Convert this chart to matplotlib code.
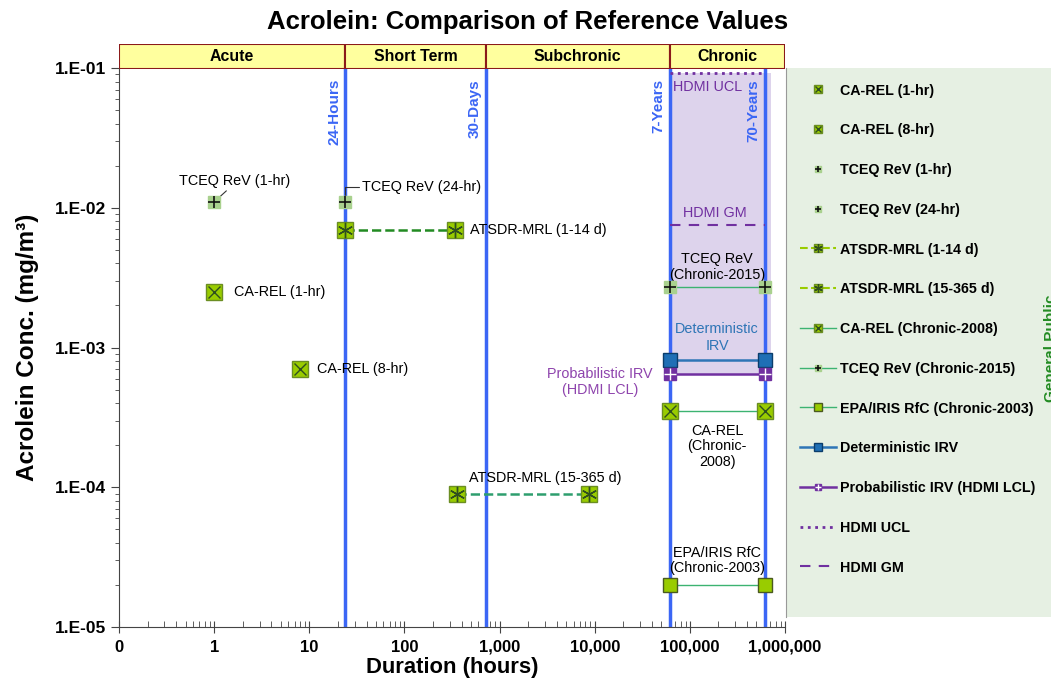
import numpy as np
import matplotlib
matplotlib.use("Agg")
import matplotlib.pyplot as plt
from matplotlib.ticker import FixedLocator, NullFormatter
from matplotlib.legend_handler import HandlerTuple
from matplotlib.lines import Line2D

plt.rcParams['font.family'] = ['Liberation Sans', 'DejaVu Sans']

# ---- data (hours, mg/m3) ----
ca_rel_x = [1, 8]
ca_rel_y = [0.0025, 0.0007]
tceq_x = [1, 24]
tceq_y = [0.011, 0.011]
atsdr_acute_x = [24, 336]
atsdr_acute_y = [0.0069, 0.0069]
atsdr_inter_x = [360, 8760]
atsdr_inter_y = [9e-05, 9e-05]
chronic_x = [61320, 613200]
ca_rel_chronic_y = [0.00035, 0.00035]
tceq_chronic_y = [0.0027, 0.0027]
epa_rfc_y = [2e-05, 2e-05]
det_irv_y = [0.00082, 0.00082]
prob_irv_y = [0.00065, 0.00065]
hdmi_ucl_y = [0.092, 0.092]
hdmi_gm_y = [0.0075, 0.0075]
shade_x = [61320, 710000]

boundaries = [24, 720, 61320, 613200]
boundary_labels = ['24-Hours', '30-Days', '7-Years', '70-Years']
period_names = ['Acute', 'Short Term', 'Subchronic', 'Chronic']
period_edges = [0.1, 24, 720, 61320, 1e6]

x_ticks = [0.1, 1, 10, 100, 1000, 10000, 100000, 1000000]
x_tick_labels = ['0', '1', '10', '100', '1,000', '10,000', '100,000', '1,000,000']
y_ticks = [1e-5, 1e-4, 1e-3, 1e-2, 1e-1]
y_tick_labels = ['1.E-05', '1.E-04', '1.E-03', '1.E-02', '1.E-01']

# ---- colours ----
ygreen = '#99cc00'
lgreen = '#a9d18e'
chron_green = '#3cb371'
blue_v = '#3b66f5'
det_blue = '#2e75b6'
purple = '#7030a0'

W, H = 1051, 682
fig = plt.figure(figsize=(W / 100, H / 100), dpi=100)
ax = fig.add_axes([119 / W, 1 - 627 / H, 666 / W, 559 / H])
ax.set_xscale('log')
ax.set_yscale('log')
ax.set_xlim(0.1, 1e6)
ax.set_ylim(1e-5, 1e-1)

# shaded HDMI band and period boundaries
ax.fill_between(shade_x, prob_irv_y[0], hdmi_ucl_y[0], color='#ddd3ec', zorder=1, lw=0)
for b, lab in zip(boundaries, boundary_labels):
    ax.axvline(b, color=blue_v, lw=2.5, zorder=2)
    ax.annotate(lab, xy=(b, 1), xycoords=('data', 'axes fraction'),
                xytext=(-8, -8), textcoords='offset points', rotation=90,
                ha='center', va='top', color=blue_v, fontsize=11, fontweight='bold')

big = 11
# acute points
ca1 = ax.plot(ca_rel_x, ca_rel_y, ls='none', marker='s', ms=big, mfc=ygreen, mec='#6b8e23', zorder=4)[0]
ca1x = ax.plot(ca_rel_x, ca_rel_y, ls='none', marker='x', ms=big * 0.8, color='#2f4f1f', mew=1, zorder=5)[0]
tq = ax.plot(tceq_x, tceq_y, ls='none', marker='s', ms=9, mfc=lgreen, mec=lgreen, zorder=4)[0]
tqp = ax.plot(tceq_x, tceq_y, ls='none', marker='+', ms=9, color='#111', mew=1.2, zorder=5)[0]

# ATSDR
at1 = ax.plot(atsdr_acute_x, atsdr_acute_y, ls='--', color='#228b22', lw=1.8, marker='s', ms=big,
              mfc=ygreen, mec='#6b8e23', zorder=4)[0]
at1s = ax.plot(atsdr_acute_x, atsdr_acute_y, ls='none', marker=(6, 2, 0), ms=big, color='#2f4f1f', zorder=5)[0]
at2 = ax.plot(atsdr_inter_x, atsdr_inter_y, ls='--', color='#2e9e6e', lw=1.8, marker='s', ms=big,
              mfc=ygreen, mec='#6b8e23', zorder=4)[0]
at2s = ax.plot(atsdr_inter_x, atsdr_inter_y, ls='none', marker=(6, 2, 0), ms=big, color='#2f4f1f', zorder=5)[0]

# chronic
cac = ax.plot(chronic_x, ca_rel_chronic_y, ls='-', color=chron_green, lw=1, marker='s', ms=big,
              mfc=ygreen, mec='#6b8e23', zorder=4)[0]
cacx = ax.plot(chronic_x, ca_rel_chronic_y, ls='none', marker='x', ms=big * 0.8, color='#2f4f1f', zorder=5)[0]
tqc = ax.plot(chronic_x, tceq_chronic_y, ls='-', color=chron_green, lw=1, marker='s', ms=9,
              mfc=lgreen, mec=lgreen, zorder=4)[0]
tqcp = ax.plot(chronic_x, tceq_chronic_y, ls='none', marker='+', ms=9, color='#111', mew=1.2, zorder=5)[0]
epa = ax.plot(chronic_x, epa_rfc_y, ls='-', color=chron_green, lw=1, marker='s', ms=10,
              mfc=ygreen, mec='#4a5a20', zorder=4)[0]
det = ax.plot(chronic_x, det_irv_y, ls='-', color=det_blue, lw=1.8, marker='s', ms=10,
              mfc='#1f6fb5', mec='#0b3d6b', zorder=4)[0]
prob = ax.plot(chronic_x, prob_irv_y, ls='-', color=purple, lw=1.8, marker='s', ms=9,
               mfc=purple, mec=purple, zorder=4)[0]
probp = ax.plot(chronic_x, prob_irv_y, ls='none', marker='+', ms=9, color='white', mew=1, zorder=5)[0]
ucl = ax.plot(chronic_x, hdmi_ucl_y, ls=':', color=purple, lw=2, zorder=3)[0]
gm = ax.plot(chronic_x, hdmi_gm_y, ls='--', color=purple, lw=1.5, dashes=(5, 4), zorder=3)[0]

# annotations
fs = 10.4
ax.annotate('TCEQ ReV (1-hr)', xy=(tceq_x[0], tceq_y[0]), xytext=(15, 10), textcoords='offset points',
            ha='center', va='bottom', fontsize=fs,
            arrowprops=dict(arrowstyle='-', color='#333', lw=0.8, shrinkA=0, shrinkB=3,
                            relpos=(0.45, 0)))
ax.annotate('TCEQ ReV (24-hr)', xy=(tceq_x[1], tceq_y[1]), xytext=(12, 11), textcoords='offset points',
            ha='left', va='center', fontsize=fs,
            arrowprops=dict(arrowstyle='-', color='#333', lw=0.8, shrinkA=0, shrinkB=2,
                            relpos=(0, 0.5), connectionstyle='angle,angleA=0,angleB=90,rad=0'))
ax.annotate('ATSDR-MRL (1-14 d)', xy=(atsdr_acute_x[1], atsdr_acute_y[1]), xytext=(11, 0),
            textcoords='offset points', ha='left', va='center', fontsize=fs)
ax.annotate('CA-REL (1-hr)', xy=(ca_rel_x[0], ca_rel_y[0]), xytext=(14, 0),
            textcoords='offset points', ha='left', va='center', fontsize=fs)
ax.annotate('CA-REL (8-hr)', xy=(ca_rel_x[1], ca_rel_y[1]), xytext=(12, 0),
            textcoords='offset points', ha='left', va='center', fontsize=fs)
mid_inter = np.sqrt(atsdr_inter_x[0] * atsdr_inter_x[1])
ax.annotate('ATSDR-MRL (15-365 d)', xy=(mid_inter, atsdr_inter_y[0]), xytext=(16, 6),
            textcoords='offset points', ha='center', va='bottom', fontsize=fs)

mid_c = np.sqrt(chronic_x[0] * chronic_x[1])
ax.annotate('HDMI UCL', xy=(mid_c, hdmi_ucl_y[0]), xytext=(-7, -5), textcoords='offset points',
            ha='center', va='top', fontsize=fs, color=purple)
ax.annotate('HDMI GM', xy=(mid_c, hdmi_gm_y[0]), xytext=(-2, 4), textcoords='offset points',
            ha='center', va='bottom', fontsize=fs, color=purple)
ax.annotate('TCEQ ReV\n(Chronic-2015)', xy=(mid_c, tceq_chronic_y[0]), xytext=(0, 4),
            textcoords='offset points', ha='center', va='bottom', fontsize=fs, linespacing=1.15)
ax.annotate('Deterministic\nIRV', xy=(mid_c, det_irv_y[0]), xytext=(0, 5),
            textcoords='offset points', ha='center', va='bottom', fontsize=fs, color=det_blue,
            linespacing=1.25)
ax.annotate('Probabilistic IRV\n(HDMI LCL)', xy=(chronic_x[0], prob_irv_y[0]), xytext=(-12, -6),
            textcoords='offset points', ha='right', va='center', fontsize=fs, color='#8e44ad',
            multialignment='center', linespacing=1.2)
ax.annotate('CA-REL\n(Chronic-\n2008)', xy=(mid_c, ca_rel_chronic_y[0]), xytext=(0, -9),
            textcoords='offset points', ha='center', va='top', fontsize=fs, linespacing=1.15)
ax.annotate('EPA/IRIS RfC\n(Chronic-2003)', xy=(mid_c, epa_rfc_y[0]), xytext=(0, 7),
            textcoords='offset points', ha='center', va='bottom', fontsize=fs, linespacing=1.1)

# axes styling
ax.xaxis.set_major_locator(FixedLocator(x_ticks))
ax.set_xticklabels(x_tick_labels, fontsize=12, fontweight='bold')
ax.xaxis.set_minor_formatter(NullFormatter())
ax.yaxis.set_major_locator(FixedLocator(y_ticks))
ax.set_yticklabels(y_tick_labels, fontsize=12.5, fontweight='bold')
ax.yaxis.set_minor_formatter(NullFormatter())
ax.tick_params(axis='y', which='major', length=6, color='#444')
ax.tick_params(axis='y', which='minor', length=3, color='#444')
ax.tick_params(axis='x', which='major', length=8, direction='inout', color='#444', pad=5)
ax.tick_params(axis='x', which='minor', length=4, direction='in', color='#444')
for s in ['top', 'right']:
    ax.spines[s].set_visible(False)
for s in ['left', 'bottom']:
    ax.spines[s].set_color('#444')
ax.set_xlabel('Duration (hours)', fontsize=15.8, fontweight='bold', labelpad=2)
ax.set_ylabel('Acrolein Conc. (mg/m³)', fontsize=17.5, fontweight='bold', labelpad=11)

fig.text(528 / W, 1 - 22 / H, 'Acrolein: Comparison of Reference Values', ha='center', va='center',
         fontsize=18.5, fontweight='bold')

# header band
axh = fig.add_axes([119 / W, 1 - 69 / H, 666 / W, 25 / H])
axh.set_xscale('log')
axh.set_xlim(0.1, 1e6)
axh.set_ylim(0, 1)
lefts = period_edges[:-1]
widths = [r - l for l, r in zip(period_edges[:-1], period_edges[1:])]
axh.bar(lefts, [1] * len(lefts), width=widths, align='edge', color='#ffff9e',
        edgecolor='#8b1a1a', lw=1.5)
for l, r, name in zip(period_edges[:-1], period_edges[1:], period_names):
    axh.text(np.sqrt(l * r), 0.5, name, ha='center', va='center', fontsize=11.4, fontweight='bold')
axh.set_axis_off()

# legend panel
axl = fig.add_axes([786 / W, 1 - 617 / H, 265 / W, 549 / H])
axl.set_facecolor('#e6f0e3')
axl.set_xticks([])
axl.set_yticks([])
for s in ['top', 'right', 'bottom']:
    axl.spines[s].set_visible(False)
axl.spines['left'].set_color('#999')
leg_at1 = Line2D([], [], ls='--', color=ygreen, lw=1.5, marker='s', ms=big, mfc=ygreen, mec='#6b8e23')
handles = [(ca1, ca1x), (ca1, ca1x), (tq, tqp), (tq, tqp),
           (leg_at1, at1s), (leg_at1, at2s), (cac, cacx), (tqc, tqcp), epa, det, (prob, probp), ucl, gm]
labels = ['CA-REL (1-hr)', 'CA-REL (8-hr)', 'TCEQ ReV (1-hr)', 'TCEQ ReV (24-hr)',
          'ATSDR-MRL (1-14 d)', 'ATSDR-MRL (15-365 d)', 'CA-REL (Chronic-2008)',
          'TCEQ ReV (Chronic-2015)', 'EPA/IRIS RfC (Chronic-2003)', 'Deterministic IRV',
          'Probabilistic IRV (HDMI LCL)', 'HDMI UCL', 'HDMI GM']
leg = axl.legend(handles, labels, loc='upper left', bbox_to_anchor=(0.015, 0.99), frameon=False,
                 handler_map={tuple: HandlerTuple(ndivide=1)}, markerscale=0.55,
                 prop={'weight': 'bold', 'size': 10.3}, labelspacing=1.8, handlelength=2.5,
                 handletextpad=0.3, borderaxespad=0.3)
axl.text(1.0, 0.49, 'General Public', rotation=90, ha='center', va='center', transform=axl.transAxes,
         color='#228b22', fontsize=11, fontweight='bold', clip_on=False)

fig.savefig('out.png', dpi=100)
